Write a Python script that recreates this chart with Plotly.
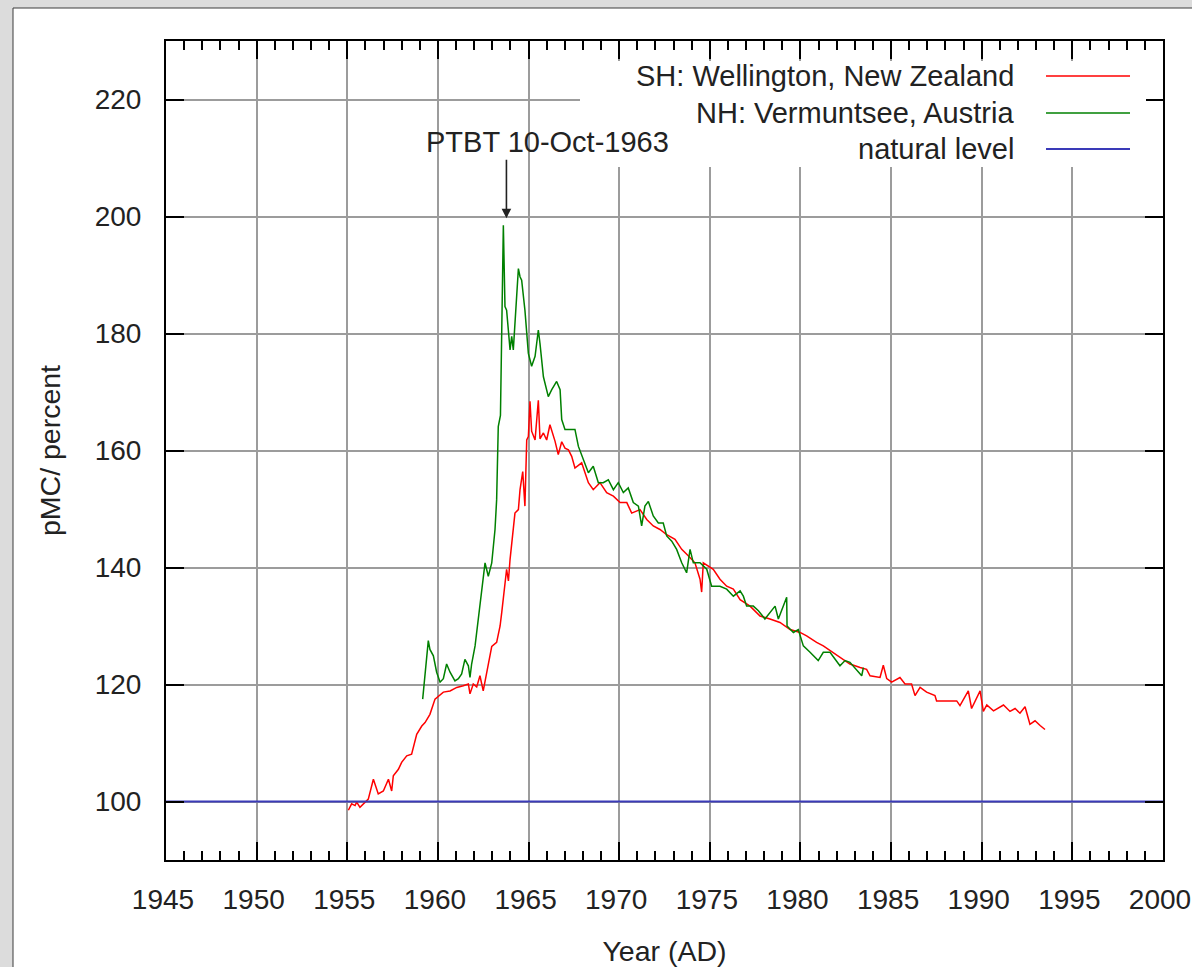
import plotly.graph_objects as go

# ---- data ----
sh_year = [1955.06, 1955.24, 1955.43, 1955.52, 1955.70, 1955.89, 1956.16, 1956.44, 1956.71, 1956.99,
           1957.27, 1957.45, 1957.54, 1957.82, 1958.00, 1958.28, 1958.55, 1958.83, 1959.11, 1959.29,
           1959.56, 1959.84, 1960.02, 1960.30, 1960.67, 1961.04, 1961.40, 1961.68, 1961.77, 1961.95,
           1962.14, 1962.32, 1962.50, 1962.69, 1962.97, 1963.24, 1963.43, 1963.52, 1963.79, 1963.89,
           1963.98, 1964.25, 1964.44, 1964.53, 1964.68, 1964.80, 1964.90, 1964.99, 1965.08, 1965.17,
           1965.36, 1965.54, 1965.63, 1965.82, 1966.00, 1966.18, 1966.46, 1966.64, 1966.83, 1967.01,
           1967.20, 1967.38, 1967.56, 1967.93, 1968.30, 1968.57, 1968.94, 1969.31, 1969.68, 1970.05,
           1970.42, 1970.69, 1971.15, 1971.52, 1971.88, 1972.25, 1972.62, 1973.08, 1973.45, 1973.81,
           1974.18, 1974.46, 1974.55, 1974.64, 1975.19, 1975.56, 1975.93, 1976.30, 1976.67, 1977.22,
           1977.77, 1978.32, 1978.87, 1979.43, 1979.98, 1980.34, 1980.62, 1980.89, 1981.26, 1981.63,
           1982.18, 1982.73, 1983.29, 1983.65, 1983.84, 1984.39, 1984.57, 1984.76, 1985.03, 1985.49,
           1985.77, 1986.13, 1986.32, 1986.60, 1986.96, 1987.42, 1987.51, 1988.62, 1988.80, 1989.26,
           1989.44, 1989.91, 1990.09, 1990.28, 1990.65, 1991.20, 1991.56, 1991.84, 1992.11, 1992.39,
           1992.66, 1992.94, 1993.22, 1993.49]
sh_pmc = [98.5, 99.6, 99.3, 99.9, 99.0, 99.6, 100.4, 103.8, 101.3, 101.8,
          103.8, 101.8, 104.4, 105.5, 106.7, 107.8, 108.1, 111.5, 112.9, 113.5,
          114.9, 117.5, 118.0, 118.7, 118.9, 119.5, 119.8, 120.1, 118.4, 120.1,
          119.6, 121.5, 118.9, 122.1, 126.5, 127.2, 130.0, 132.3, 139.7, 137.7,
          141.4, 149.3, 149.9, 153.3, 156.4, 150.5, 161.8, 162.4, 168.4, 163.3,
          161.8, 168.6, 162.0, 163.0, 161.8, 164.4, 161.6, 159.3, 161.5, 160.4,
          160.1, 159.0, 157.0, 157.9, 154.5, 153.3, 154.5, 152.8, 152.2, 151.1,
          151.1, 149.3, 149.9, 148.2, 147.1, 146.5, 145.6, 144.8, 143.1, 142.0,
          140.8, 138.0, 135.8, 140.8, 139.7, 138.0, 136.8, 136.3, 134.5, 133.4,
          131.7, 131.2, 130.6, 129.4, 128.9, 128.3, 127.7, 127.2, 126.6, 125.8,
          124.6, 123.5, 122.9, 122.6, 121.5, 121.2, 123.3, 121.0, 120.4, 121.2,
          120.1, 120.1, 118.1, 119.5, 118.7, 118.1, 117.2, 117.2, 116.4, 118.9,
          115.9, 118.9, 115.4, 116.5, 115.5, 116.5, 115.4, 115.9, 115.1, 116.2,
          113.2, 113.8, 113.0, 112.3]

nh_year = [1959.16, 1959.38, 1959.47, 1959.56, 1959.75, 1959.93, 1960.12, 1960.30, 1960.48, 1960.67,
           1960.94, 1961.13, 1961.31, 1961.49, 1961.68, 1961.77, 1961.86, 1962.05, 1962.23, 1962.41,
           1962.60, 1962.78, 1962.97, 1963.15, 1963.24, 1963.33, 1963.45, 1963.61, 1963.70, 1963.79,
           1963.98, 1964.07, 1964.16, 1964.44, 1964.53, 1964.62, 1964.80, 1964.99, 1965.17, 1965.36,
           1965.54, 1965.63, 1965.82, 1966.09, 1966.28, 1966.55, 1966.74, 1966.83, 1967.01, 1967.29,
           1967.56, 1967.75, 1968.02, 1968.30, 1968.57, 1968.85, 1969.12, 1969.40, 1969.68, 1969.95,
           1970.23, 1970.50, 1970.78, 1971.06, 1971.24, 1971.42, 1971.61, 1971.88, 1972.16, 1972.43,
           1972.62, 1972.90, 1973.17, 1973.45, 1973.72, 1973.91, 1974.09, 1974.46, 1974.83, 1975.10,
           1975.56, 1975.93, 1976.30, 1976.67, 1976.85, 1977.03, 1977.40, 1977.68, 1978.04, 1978.32,
           1978.60, 1978.78, 1979.24, 1979.26, 1979.61, 1979.88, 1980.16, 1980.53, 1980.98, 1981.26,
           1981.63, 1982.18, 1982.46, 1982.73, 1983.10, 1983.38, 1983.47]
nh_pmc = [117.5, 124.0, 127.5, 126.0, 124.9, 122.1, 120.4, 121.0, 123.5, 122.1,
          120.6, 121.0, 121.8, 124.3, 123.2, 121.2, 123.5, 126.6, 131.2, 136.3,
          140.8, 138.5, 140.8, 146.5, 151.6, 164.1, 166.0, 198.5, 184.6, 184.0,
          177.2, 179.5, 177.2, 191.1, 189.7, 189.1, 184.0, 176.6, 174.4, 176.1,
          180.6, 178.3, 172.6, 169.2, 170.4, 171.8, 170.4, 165.3, 163.6, 163.6,
          163.6, 160.7, 158.4, 156.2, 157.3, 154.5, 154.5, 155.0, 153.3, 154.5,
          152.8, 153.6, 151.1, 150.5, 147.1, 150.5, 151.3, 148.8, 147.6, 147.6,
          145.4, 144.5, 143.1, 140.8, 139.1, 143.1, 140.8, 140.8, 139.7, 136.8,
          136.8, 136.3, 135.1, 136.0, 135.1, 133.4, 133.4, 132.6, 131.2, 132.3,
          133.4, 131.2, 134.9, 130.0, 128.9, 129.4, 126.6, 125.5, 124.1, 125.5,
          125.5, 123.2, 124.1, 123.8, 122.4, 121.5, 122.9]

natural_year = [1945, 2000]
natural_pmc = [100, 100]

series_names = ["SH: Wellington, New Zealand", "NH: Vermuntsee, Austria", "natural level"]
series_colors = ["#ff0000", "#008000", "#3a3ab8"]

x_ticks = list(range(1945, 2001, 5))
y_ticks = list(range(100, 221, 20))

# ---- figure geometry (pixels) ----
W, H = 1192, 967
L, R, T, B = 166, 1163, 41, 860
pw, ph = R - L, B - T


def px(xp):
    return (xp - L) / pw


def py(yp):
    return 1 - (yp - T) / ph


FONT = "Liberation Sans, Arial, sans-serif"
TXT = "#222222"
TICK_SIZE = 28
TEXT_SIZE = 29

fig = go.Figure()
fig.add_trace(go.Scatter(x=sh_year, y=sh_pmc, mode="lines", name=series_names[0],
                         line=dict(color=series_colors[0], width=1.5), showlegend=False))
fig.add_trace(go.Scatter(x=nh_year, y=nh_pmc, mode="lines", name=series_names[1],
                         line=dict(color=series_colors[1], width=1.5), showlegend=False))
fig.add_trace(go.Scatter(x=natural_year, y=natural_pmc, mode="lines", name=series_names[2],
                         line=dict(color=series_colors[2], width=2), showlegend=False))

shapes = []
# white panel with border over gray page background
shapes.append(dict(type="rect", xref="paper", yref="paper", layer="below",
                   x0=px(13), x1=px(1250), y0=py(1050), y1=py(8),
                   fillcolor="white", line=dict(color="#3c3c3c", width=1)))
# white box behind key (hides grid)
shapes.append(dict(type="rect", xref="paper", yref="paper", layer="above",
                   x0=px(580), x1=px(1146), y0=py(167), y1=py(61),
                   fillcolor="white", line=dict(width=0)))
legend_y = [76, 113, 149]
annotations = []
for name, col, yy in zip(series_names, series_colors, legend_y):
    shapes.append(dict(type="line", xref="paper", yref="paper", layer="above",
                       x0=px(1046), x1=px(1130), y0=py(yy), y1=py(yy),
                       line=dict(color=col, width=1.5 if col != series_colors[2] else 2)))
    annotations.append(dict(xref="paper", yref="paper", x=px(1016), y=py(yy),
                            text=name, showarrow=False, xanchor="right", yanchor="middle",
                            font=dict(family=FONT, size=TEXT_SIZE, color=TXT)))

# PTBT annotation
annotations.append(dict(x=1963.78, y=199.7, xref="x", yref="y", text="",
                        showarrow=True, ax=0, ay=-60, arrowhead=2, arrowsize=1.2,
                        arrowwidth=1.6, arrowcolor="#222222"))
annotations.append(dict(x=1966.02, y=212.8, xref="x", yref="y", text="PTBT 10-Oct-1963",
                        showarrow=False, xanchor="center", yanchor="middle",
                        font=dict(family=FONT, size=TEXT_SIZE, color=TXT)))

fig.update_layout(
    width=W, height=H,
    margin=dict(l=L, r=W - R, t=T, b=H - B, autoexpand=False),
    paper_bgcolor="#dcdcdc", plot_bgcolor="white",
    font=dict(family=FONT, size=TICK_SIZE, color=TXT),
    shapes=shapes, annotations=annotations,
    showlegend=False,
)
fig.update_xaxes(
    range=[1945, 2000], tickvals=x_ticks, ticktext=[str(v) for v in x_ticks],
    showgrid=True, gridcolor="#9c9c9c", gridwidth=2,
    showline=True, linecolor="black", linewidth=2, mirror="ticks",
    ticks="inside", ticklen=18, tickwidth=2, tickcolor="black",
    minor=dict(dtick=1, tick0=1945, ticks="inside", ticklen=9, tickwidth=2,
               tickcolor="black", showgrid=False),
    tickfont=dict(family=FONT, size=TICK_SIZE, color=TXT), ticklabelstandoff=13,
    ticklabelshift=-3, ticklabeloverflow="allow",
    title=dict(text="Year (AD)", font=dict(family=FONT, size=28.5, color=TXT), standoff=33),
    zeroline=False,
)
fig.update_yaxes(
    range=[90, 230], tickvals=y_ticks, ticktext=[str(v) for v in y_ticks],
    showgrid=True, gridcolor="#9c9c9c", gridwidth=2,
    showline=True, linecolor="black", linewidth=2, mirror="ticks",
    ticks="inside", ticklen=18, tickwidth=2, tickcolor="black",
    tickfont=dict(family=FONT, size=TICK_SIZE, color=TXT), ticklabelstandoff=17,
    ticklabeloverflow="allow",
    title=dict(text="pMC/ percent", font=dict(family=FONT, size=28.5, color=TXT), standoff=26),
    zeroline=False,
)

fig.write_html(
    "out.html",
    config={"displayModeBar": False},
    post_script="document.body.style.margin='0';document.body.style.background='#dcdcdc';"
                "document.documentElement.style.overflow='hidden';",
)
